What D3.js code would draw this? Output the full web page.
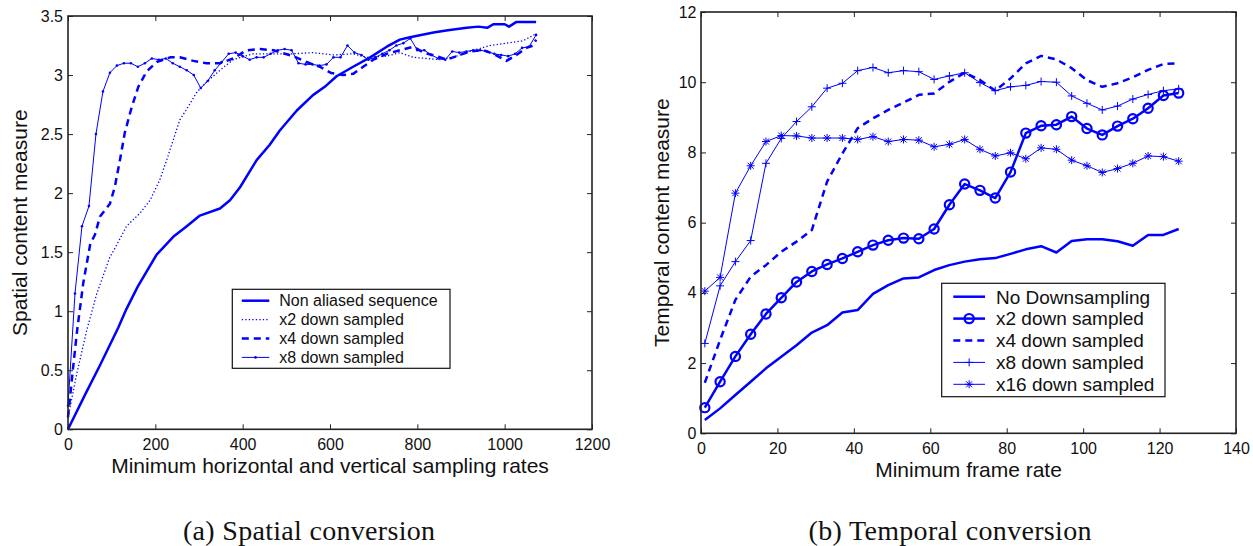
<!DOCTYPE html>
<html>
<head>
<meta charset="utf-8">
<script src="https://cdn.jsdelivr.net/npm/d3@7"></script>
<style>
  body { margin: 0; background: #fff; }
  svg { display: block; font-family: "Liberation Sans", Arial, sans-serif; }
  .tick line { stroke: #222; stroke-width: 1; }
  .tick text { font-size: 16px; fill: #111; }
</style>
</head>
<body>
<svg id="fig" width="1253" height="546"></svg>
<script>
// ---- panel (a): spatial conversion ----
var spatialXTicks = [0, 200, 400, 600, 800, 1000, 1200];
var spatialYTicks = [0, 0.5, 1, 1.5, 2, 2.5, 3, 3.5];

// [sampling rate, measure]
var nonAliased = [[0,0],[40,0.3],[73,0.54],[115,0.86],[134,1.02],[160,1.21],[203,1.48],[241,1.63],[272,1.72],
  [302,1.81],[348,1.87],[371,1.94],[394,2.05],[432,2.28],[462,2.41],[485,2.53],[524,2.70],[561,2.83],[588,2.90],
  [615,2.99],[653,3.07],[692,3.15],[730,3.24],[760,3.30],[783,3.32],[837,3.36],[870,3.38],[913,3.40],[940,3.41],
  [960,3.40],[974,3.43],[1000,3.43],[1010,3.41],[1027,3.45],[1072,3.45]];

var down2 = [[0,0.1],[20,0.47],[43,0.84],[66,1.15],[96,1.46],[107,1.53],[134,1.72],[165,1.83],[188,1.94],
  [210,2.11],[226,2.28],[241,2.45],[256,2.62],[275,2.73],[294,2.85],[317,2.94],[348,3.04],[378,3.13],[424,3.18],
  [470,3.18],[516,3.18],[561,3.19],[608,3.17],[653,3.18],[683,3.15],[730,3.16],[760,3.19],[791,3.15],[821,3.14],
  [852,3.13],[882,3.15],[929,3.21],[966,3.25],[1004,3.27],[1042,3.29],[1072,3.35]];

var down4 = [[0,0.1],[11,0.5],[21,0.84],[35,1.24],[51,1.57],[62,1.65],[73,1.80],[96,1.91],[107,2.05],[119,2.28],
  [130,2.51],[146,2.73],[161,2.90],[180,3.03],[203,3.11],[234,3.15],[256,3.15],[287,3.12],[317,3.10],[348,3.10],
  [378,3.14],[409,3.21],[440,3.22],[470,3.21],[516,3.16],[546,3.11],[577,3.07],[601,3.02],[629,3.00],[653,3.01],
  [676,3.07],[699,3.13],[730,3.18],[760,3.21],[791,3.24],[814,3.19],[844,3.16],[867,3.13],[890,3.16],[920,3.20],
  [951,3.21],[974,3.18],[1004,3.12],[1027,3.17],[1050,3.23],[1065,3.25],[1072,3.30]];

var down8Rates = [0,16,32,48,64,80,96,112,128,144,160,176,192,208,224,240,256,272,288,304,320,336,352,368,384,400,
  416,432,448,464,480,496,512,528,544,560,576,592,608,624,640,656,672,688,704,720,736,752,768,784,800,816,832,848,
  864,880,896,912,928,944,960,976,992,1008,1024,1040,1056,1072];
var down8Values = [0.2,1.15,1.72,1.89,2.5,2.86,3.02,3.08,3.10,3.10,3.07,3.10,3.14,3.13,3.14,3.10,3.07,3.04,3.00,2.89,
  2.95,3.04,3.11,3.18,3.19,3.16,3.13,3.15,3.15,3.18,3.21,3.22,3.21,3.10,3.09,3.09,3.08,3.09,3.15,3.15,3.25,3.19,3.17,
  3.13,3.15,3.18,3.21,3.25,3.27,3.31,3.21,3.21,3.17,3.14,3.13,3.20,3.19,3.20,3.21,3.21,3.20,3.18,3.17,3.16,3.18,
  3.23,3.24,3.34];

// ---- panel (b): temporal conversion ----
var temporalXTicks = [0, 20, 40, 60, 80, 100, 120, 140];
var temporalYTicks = [0, 2, 4, 6, 8, 10, 12];
var frameRates = [1,5,9,13,17,21,25,29,33,37,41,45,49,53,57,61,65,69,73,77,81,85,89,93,97,101,105,109,113,117,121,125];
var noDownsampling = [0.38,0.71,1.09,1.47,1.85,2.18,2.51,2.87,3.08,3.44,3.51,3.97,4.22,4.41,4.44,4.65,4.79,4.89,4.96,
  4.99,5.11,5.24,5.33,5.15,5.48,5.53,5.53,5.47,5.34,5.65,5.65,5.82];
var temporal2 = [0.73,1.47,2.19,2.82,3.40,3.86,4.31,4.61,4.81,4.98,5.17,5.36,5.50,5.56,5.54,5.82,6.51,7.10,6.92,6.70,
  7.44,8.55,8.76,8.79,9.02,8.68,8.50,8.75,8.96,9.26,9.62,9.69];
var temporal4 = [1.44,2.66,3.80,4.46,4.79,5.17,5.46,5.79,7.17,7.97,8.69,8.97,9.21,9.42,9.64,9.68,10.01,10.27,10.06,
  9.76,10.11,10.54,10.75,10.65,10.40,10.06,9.87,9.97,10.14,10.35,10.52,10.54];
var temporal8 = [2.56,4.20,4.89,5.49,7.69,8.40,8.88,9.30,9.83,9.97,10.33,10.42,10.27,10.33,10.30,10.08,10.18,10.27,
  9.99,9.76,9.87,9.91,10.02,10.00,9.61,9.40,9.21,9.32,9.52,9.65,9.76,9.81];
var temporal16 = [4.05,4.44,6.84,7.62,8.31,8.48,8.47,8.41,8.41,8.41,8.37,8.45,8.31,8.37,8.35,8.16,8.23,8.37,8.09,7.90,
  7.99,7.82,8.13,8.09,7.78,7.62,7.43,7.54,7.69,7.90,7.88,7.75];

var BLUE = "#0000ff";
var svg = d3.select("#fig");
svg.append("rect").attr("width", 1253).attr("height", 546).attr("fill", "#fff");

function zip(xs, ys) { return xs.map(function(x, i) { return [x, ys[i]]; }); }

function drawMarker(g, type, x, y) {
  if (type === "dot") {
    g.append("circle").attr("cx", x).attr("cy", y).attr("r", 1.3).attr("fill", BLUE);
  } else if (type === "circle") {
    g.append("circle").attr("cx", x).attr("cy", y).attr("r", 4.6)
      .attr("fill", "none").attr("stroke", BLUE).attr("stroke-width", 2.2);
  } else if (type === "plus") {
    g.append("path").attr("d", "M" + (x - 4) + "," + y + "h8M" + x + "," + (y - 4) + "v8")
      .attr("stroke", BLUE).attr("stroke-width", 1).attr("fill", "none");
  } else if (type === "star") {
    g.append("path").attr("d", "M" + (x - 4) + "," + y + "h8M" + x + "," + (y - 4) + "v8" +
        "M" + (x - 3) + "," + (y - 3) + "l6,6M" + (x - 3) + "," + (y + 3) + "l6,-6")
      .attr("stroke", BLUE).attr("stroke-width", 1).attr("fill", "none");
  }
}

function drawPanel(p) {
  var x = d3.scaleLinear().domain(p.xDomain).range([p.left, p.right]);
  var y = d3.scaleLinear().domain(p.yDomain).range([p.bottom, p.top]);
  var g = svg.append("g");

  var line = d3.line().x(function(d) { return x(d[0]); }).y(function(d) { return y(d[1]); });

  p.series.forEach(function(s) {
    g.append("path").datum(s.data)
      .attr("d", line)
      .attr("fill", "none")
      .attr("stroke", BLUE)
      .attr("stroke-width", s.width)
      .attr("stroke-dasharray", s.dash || null)
      .attr("stroke-linejoin", "round");
    if (s.marker) {
      var mg = g.append("g");
      s.data.forEach(function(d) { drawMarker(mg, s.marker, x(d[0]), y(d[1])); });
    }
  });

  // axes, ticks pointing inward on all four sides
  g.append("g").attr("transform", "translate(0," + p.bottom + ")")
    .call(d3.axisBottom(x).tickValues(p.xTicks).tickSizeInner(-5).tickSizeOuter(0).tickPadding(9).tickFormat(d3.format("")))
    .call(function(a) { a.select(".domain").remove(); });
  g.append("g").attr("transform", "translate(0," + p.top + ")")
    .call(d3.axisTop(x).tickValues(p.xTicks).tickSizeInner(-5).tickSizeOuter(0).tickFormat(""))
    .call(function(a) { a.select(".domain").remove(); });
  g.append("g").attr("transform", "translate(" + p.left + ",0)")
    .call(d3.axisLeft(y).tickValues(p.yTicks).tickSizeInner(-5).tickSizeOuter(0).tickPadding(p.yPad).tickFormat(d3.format("")))
    .call(function(a) { a.select(".domain").remove(); });
  g.append("g").attr("transform", "translate(" + p.right + ",0)")
    .call(d3.axisRight(y).tickValues(p.yTicks).tickSizeInner(-5).tickSizeOuter(0).tickFormat(""))
    .call(function(a) { a.select(".domain").remove(); });

  g.append("rect")
    .attr("x", p.left).attr("y", p.top)
    .attr("width", p.right - p.left).attr("height", p.bottom - p.top)
    .attr("fill", "none").attr("stroke", "#222").attr("stroke-width", 1.6);

  g.append("text")
    .attr("x", (p.left + p.right) / 2).attr("y", p.bottom + 44)
    .attr("text-anchor", "middle").style("font-size", "21px").attr("fill", "#111")
    .text(p.xLabel);
  g.append("text")
    .attr("transform", "translate(" + p.yLabelX + "," + (p.top + p.bottom) / 2 + ") rotate(-90)")
    .attr("text-anchor", "middle").style("font-size", "21px").attr("fill", "#111")
    .text(p.yLabel);

  // legend
  var L = p.legend;
  var lg = g.append("g");
  lg.append("rect").attr("x", L.x).attr("y", L.y).attr("width", L.w).attr("height", L.h)
    .attr("fill", "#fff").attr("stroke", "#111").attr("stroke-width", 1.2);
  p.series.forEach(function(s, i) {
    var cy = L.y + L.first + i * L.step;
    lg.append("line").attr("x1", L.x + L.s0).attr("x2", L.x + L.s1).attr("y1", cy).attr("y2", cy)
      .attr("stroke", BLUE).attr("stroke-width", s.width).attr("stroke-dasharray", s.dash || null);
    if (s.marker) drawMarker(lg, s.marker, L.x + (L.s0 + L.s1) / 2, cy);
    lg.append("text").attr("x", L.x + L.tx).attr("y", cy).attr("dy", "0.36em")
      .style("font-size", L.font + "px").attr("fill", "#111").text(s.name);
  });

  svg.append("text")
    .attr("x", p.capX).attr("y", 540)
    .attr("text-anchor", "middle")
    .attr("textLength", p.capW).attr("lengthAdjust", "spacing")
    .style("font-family", "'Liberation Serif', 'Times New Roman', serif")
    .style("font-size", "28px").attr("fill", "#111")
    .text(p.caption);
}

drawPanel({
  left: 68, right: 592, top: 16, bottom: 429.3,
  xDomain: [0, 1200], yDomain: [0, 3.5],
  xTicks: spatialXTicks, yTicks: spatialYTicks, yPad: 5,
  xLabel: "Minimum horizontal and vertical sampling rates",
  yLabel: "Spatial content measure", yLabelX: 27,
  caption: "(a) Spatial conversion", capX: 309, capW: 252,
  series: [
    { name: "Non aliased sequence", data: nonAliased, width: 2.5 },
    { name: "x2 down sampled", data: down2, width: 1.3, dash: "1.3,2.2" },
    { name: "x4 down sampled", data: down4, width: 2.5, dash: "7,5" },
    { name: "x8 down sampled", data: zip(down8Rates, down8Values), width: 1, marker: "dot" }
  ],
  legend: { x: 232.3, y: 289.3, w: 217.7, h: 79, first: 11.4, step: 18.9, s0: 9.5, s1: 37, tx: 47, font: 16 }
});

drawPanel({
  left: 701, right: 1236, top: 12, bottom: 433.3,
  xDomain: [0, 140], yDomain: [0, 12],
  xTicks: temporalXTicks, yTicks: temporalYTicks, yPad: 4.5,
  xLabel: "Minimum frame rate",
  yLabel: "Temporal content measure", yLabelX: 669,
  caption: "(b) Temporal conversion", capX: 950, capW: 283,
  series: [
    { name: "No Downsampling", data: zip(frameRates, noDownsampling), width: 2.5 },
    { name: "x2 down sampled", data: zip(frameRates, temporal2), width: 2.5, marker: "circle" },
    { name: "x4 down sampled", data: zip(frameRates, temporal4), width: 2.5, dash: "7,5" },
    { name: "x8 down sampled", data: zip(frameRates, temporal8), width: 1, marker: "plus" },
    { name: "x16 down sampled", data: zip(frameRates, temporal16), width: 1, marker: "star" }
  ],
  legend: { x: 941.7, y: 283.3, w: 223.3, h: 113.4, first: 13.4, step: 21.9, s0: 11.6, s1: 43.3, tx: 54.3, font: 19 }
});
</script>
</body>
</html>
